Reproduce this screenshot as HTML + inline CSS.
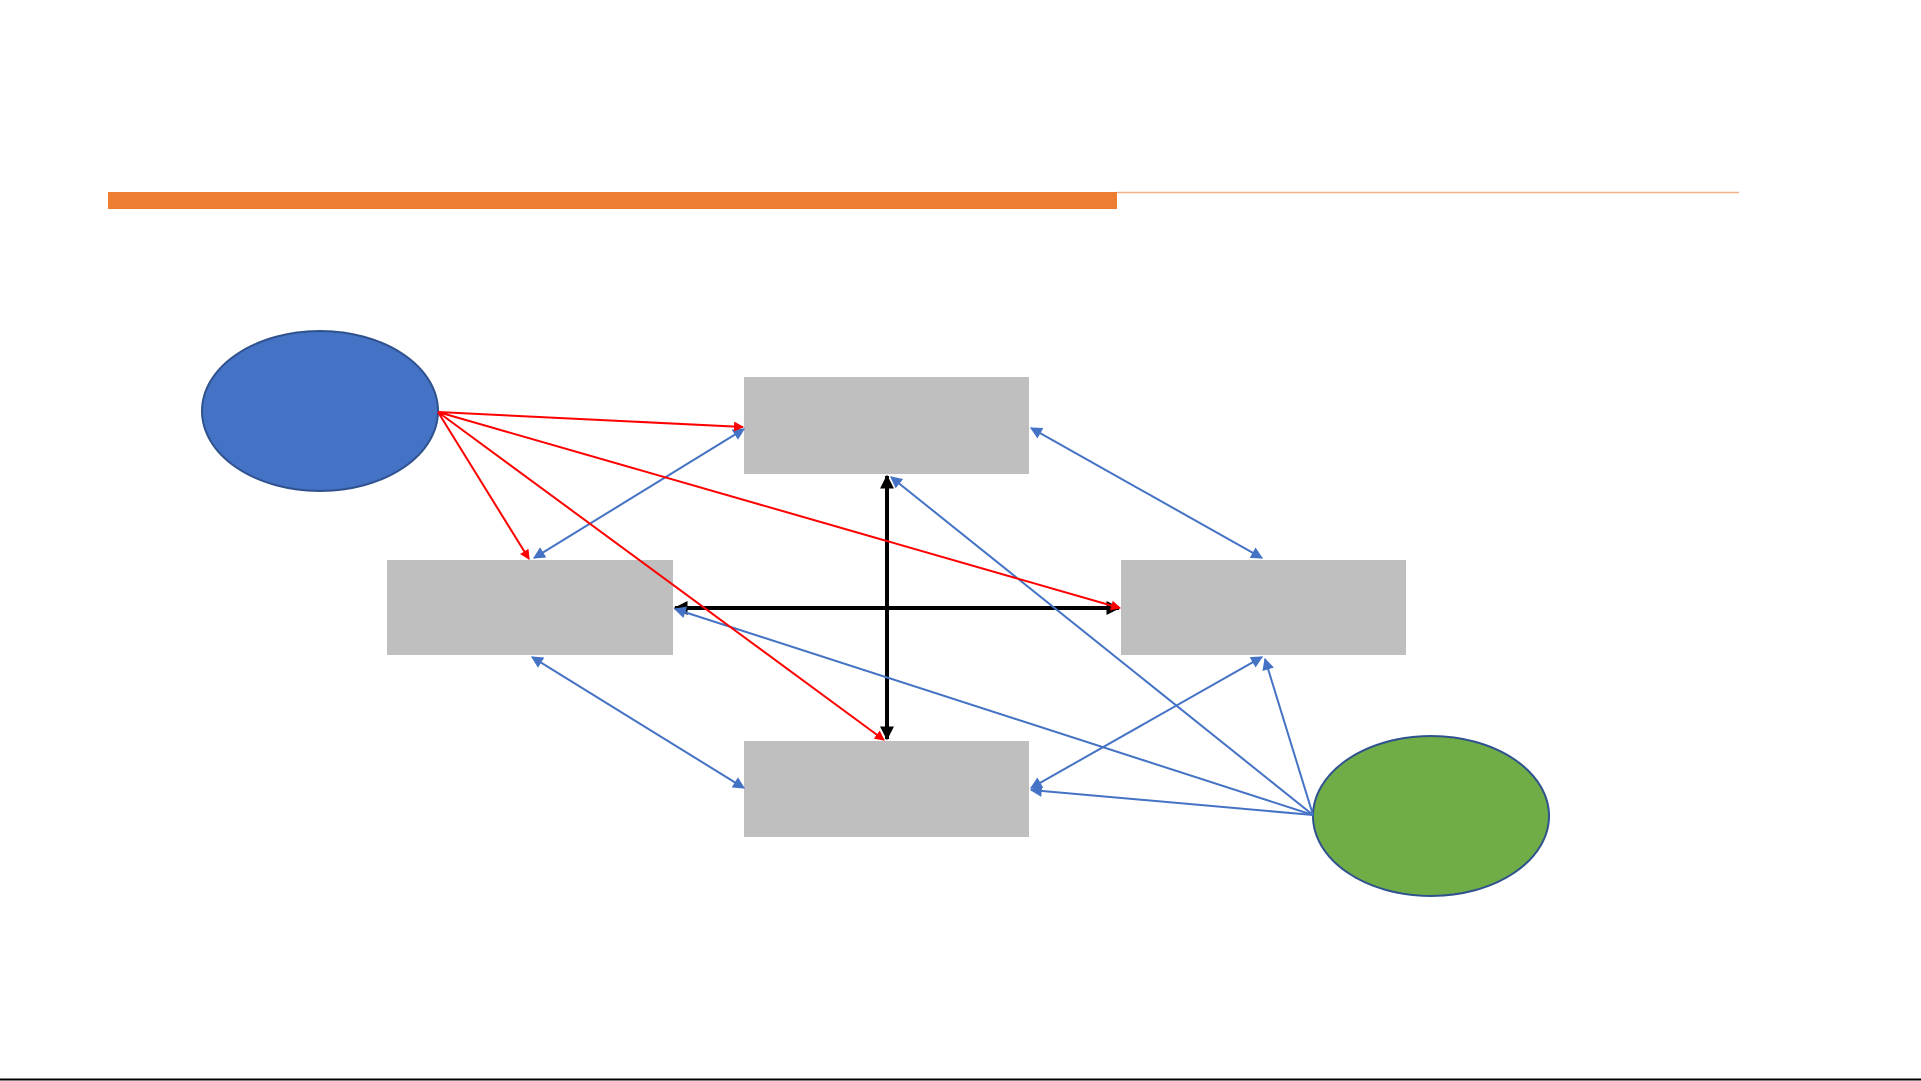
<!DOCTYPE html>
<html><head><style>html,body{margin:0;padding:0;background:#fff;}svg{display:block}</style></head>
<body>
<svg width="1921" height="1081" viewBox="0 0 1921 1081" xmlns="http://www.w3.org/2000/svg">
<defs>
<marker id="r" viewBox="0 0 10 10" refX="9" refY="5" markerWidth="5" markerHeight="5" orient="auto-start-reverse"><path d="M0,0L10,5L0,10z" fill="#FF0000"/></marker>
<marker id="b" viewBox="0 0 10 10" refX="9" refY="5" markerWidth="6" markerHeight="6" orient="auto-start-reverse"><path d="M0,0L10,5L0,10z" fill="#4472C4"/></marker>
<marker id="k" viewBox="0 0 10 10" refX="9" refY="5" markerWidth="3.5" markerHeight="3.5" orient="auto-start-reverse"><path d="M0,0L10,5L0,10z" fill="#000"/></marker>
</defs>
<rect x="108" y="192" width="1009" height="17" fill="#ED7D31"/>
<line x1="1117" y1="192.5" x2="1739" y2="192.5" stroke="#F4B183" stroke-width="1.5"/>
<rect x="744" y="377" width="285" height="97" fill="#BFBFBF"/>
<rect x="387" y="560" width="286" height="95" fill="#BFBFBF"/>
<rect x="1121" y="560" width="285" height="95" fill="#BFBFBF"/>
<rect x="744" y="741" width="285" height="96" fill="#BFBFBF"/>
<ellipse cx="320" cy="411" rx="118" ry="80" fill="#4472C4" stroke="#2F528F" stroke-width="2"/>
<ellipse cx="1431" cy="816" rx="118" ry="80" fill="#70AD47" stroke="#2F528F" stroke-width="2"/>
<g stroke="#000" stroke-width="4" fill="none">
<line x1="887" y1="476" x2="887" y2="739" marker-start="url(#k)" marker-end="url(#k)"/>
<line x1="675" y1="608" x2="1119" y2="608" marker-start="url(#k)" marker-end="url(#k)"/>
</g>
<g stroke="#4472C4" stroke-width="2" fill="none">
<line x1="534" y1="558" x2="744" y2="429" marker-start="url(#b)" marker-end="url(#b)"/>
<line x1="1031" y1="428" x2="1262" y2="558" marker-start="url(#b)" marker-end="url(#b)"/>
<line x1="532" y1="657" x2="744" y2="788" marker-start="url(#b)" marker-end="url(#b)"/>
<line x1="1031" y1="788" x2="1262" y2="657" marker-start="url(#b)" marker-end="url(#b)"/>
<line x1="1313" y1="815" x2="891" y2="477" marker-end="url(#b)"/>
<line x1="1313" y1="815" x2="675" y2="609" marker-end="url(#b)"/>
<line x1="1313" y1="815" x2="1031" y2="790" marker-end="url(#b)"/>
<line x1="1313" y1="815" x2="1265" y2="659" marker-end="url(#b)"/>
</g>
<g stroke="#FF0000" stroke-width="2" fill="none">
<line x1="438" y1="412" x2="743" y2="427" marker-end="url(#r)"/>
<line x1="438" y1="412" x2="529" y2="559" marker-end="url(#r)"/>
<line x1="438" y1="412" x2="1120" y2="608" marker-end="url(#r)"/>
<line x1="438" y1="412" x2="884" y2="740" marker-end="url(#r)"/>
</g>
<line x1="0" y1="1079.5" x2="1921" y2="1079.5" stroke="#000" stroke-width="2"/>
</svg>
</body></html>
